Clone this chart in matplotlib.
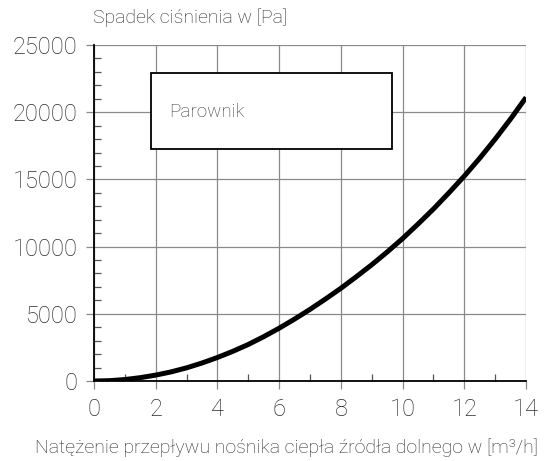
import numpy as np
import matplotlib
matplotlib.use('Agg')
import matplotlib.pyplot as plt
from matplotlib.ticker import MultipleLocator

plt.rcParams['font.family'] = ['Roboto', 'DejaVu Sans']
plt.rcParams['font.weight'] = 'light'

# flow [m3/h] vs pressure drop [Pa]
flow = [0, 0.5, 1, 1.5, 2, 2.5, 3, 3.5, 4, 4.5, 5, 5.5, 6, 6.5, 7,
        7.5, 8, 8.5, 9, 9.5, 10, 10.5, 11, 11.5, 12, 12.5, 13, 13.5, 14]
drop = [0, 25, 110, 250, 440, 680, 980, 1340, 1750, 2210, 2720, 3300, 3930, 4610, 5330,
        6100, 6900, 7760, 8650, 9600, 10600, 11680, 12800, 14000, 15250, 16580, 18000, 19500, 21100]

box_label = 'Parownik'
xlabel = 'Natężenie przepływu nośnika ciepła źródła dolnego w [m³/h]'
ylabel = 'Spadek ciśnienia w [Pa]'

fig = plt.figure(figsize=(5.44, 4.61), dpi=100)
ax = fig.add_axes([0.1728, 0.1735, 0.7942, 0.7289])

ax.plot(flow, drop, color='black', lw=3.6, solid_capstyle='butt', zorder=3)

ax.set_xlim(0, 14)
ax.set_ylim(0, 25000)
ax.xaxis.set_major_locator(MultipleLocator(2))
ax.xaxis.set_minor_locator(MultipleLocator(1))
ax.yaxis.set_major_locator(MultipleLocator(5000))
ax.yaxis.set_minor_locator(MultipleLocator(1000))
ax.grid(True, which='major', color='#8a8a8a', lw=0.9)
ax.set_axisbelow(True)

for s in ['top', 'right']:
    ax.spines[s].set_visible(False)
ax.spines['left'].set_linewidth(1.3)
ax.spines['bottom'].set_linewidth(1.3)

ax.tick_params(which='major', direction='out', length=6, width=0.9, color='#8a8a8a',
               labelsize=17, labelcolor='#2a2a2a', pad=6)
ax.tick_params(which='minor', direction='in', length=5, width=0.9, color='#555555')

# evaporator label box
ax.add_patch(plt.Rectangle((1.85, 17250), 7.8, 5700, facecolor='white',
                           edgecolor='black', lw=1.3, zorder=4))
ax.text(2.45, 20000, box_label, fontsize=13.5, color='#3a3a3a', va='center', zorder=5)

fig.text(0.171, 0.962, ylabel, fontsize=14, color='#2a2a2a', ha='left', va='center')
fig.text(0.527, 0.03, xlabel, fontsize=14, color='#2a2a2a', ha='center', va='center')

fig.savefig('out.png', dpi=100)
